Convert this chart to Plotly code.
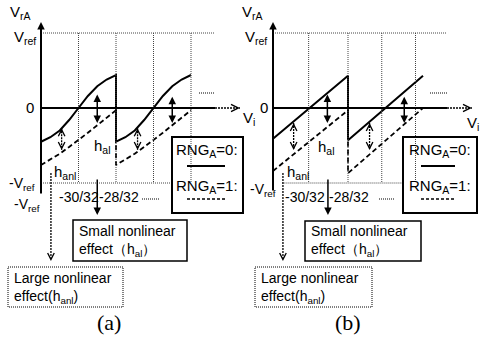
import plotly.graph_objects as go

W, H = 484, 340
SANS = "Liberation Sans, Arial, sans-serif"
SERIF = "Liberation Serif, Times New Roman, serif"
DOT = "1px,1px"

# ---------------- data (x: Vi in units of 1/32, y: V_rA in units of Vref) ----------------
VREF = 1.0
# panel (a): nonlinear (S-shaped) residue curves
vi_a1 = [-32, -31.5, -31, -30.5, -30, -29.5, -29, -28.5, -28]
vi_a2 = [-28, -27.5, -27, -26.5, -26, -25.5, -25, -24.5, -24]
a_rng0 = [-0.45, -0.39, -0.30, -0.16, 0.0, 0.16, 0.29, 0.38, 0.44]
a_rng1 = [-0.76, -0.69, -0.61, -0.52, -0.43, -0.33, -0.23, -0.13, -0.03]
# panel (b): linear residue curves
vi_b1 = [-32, -28]
vi_b2 = [-28, -24]
b_rng0_1 = [-0.41, 0.43]
b_rng0_2 = [-0.43, 0.43]
b_rng1_1 = [-0.84, -0.03]
b_rng1_2 = [-0.87, 0.0]
# vertical guide lines (Vi / (1/32))
grid_a = [-30, -28, -26, -24]
grid_b = [-30.1, -28, -26.2, -24.4]
tick_labels = ["-30/32", "-28/32"]
# h_al (solid) and h_anl (dotted) double arrows: x, top, bottom
hal_a = [(-29.0, 0.2, -0.2), (-25.0, 0.17, -0.2)]
hanl_a = [(-30.9, -0.27, -0.56), (-26.85, -0.27, -0.56)]
hal_b = [(-29.1, 0.2, -0.2), (-25.0, 0.17, -0.2)]
hanl_b = [(-30.9, -0.2, -0.56), (-26.85, -0.2, -0.56)]
# arrows to explanation boxes: x, start, end
small_arrow = {"a": (-29.0, -0.933, -1.427), "b": (-29.07, -0.933, -1.427)}
large_arrow = {"a": (-31.47, -0.867, -2.04), "b": (-31.47, -0.867, -2.04)}

fig = go.Figure()

# ---------------- axes layout ----------------
# pixel mapping: 18.75 px per 1/32, 75 px per Vref, zero line at y=108 px
yr = [(108 - 340) / 75, 108 / 75]
fig.update_layout(
    width=W, height=H, margin=dict(l=0, r=0, t=0, b=0),
    paper_bgcolor="white", plot_bgcolor="white", showlegend=False,
    xaxis=dict(domain=[0, 0.5], range=[-32 - 41 / 18.75, -32 + 201 / 18.75], visible=False),
    yaxis=dict(domain=[0, 1], range=yr, visible=False),
    xaxis2=dict(domain=[0.5, 1], range=[-32 - 31 / 18.75, -32 + 211 / 18.75], visible=False, anchor="y2"),
    yaxis2=dict(domain=[0, 1], range=yr, visible=False, anchor="x2"),
)

shapes = []
anns = []


def line(xr, yref, x0, y0, x1, y1, dash="solid", width=1.0, color="black"):
    shapes.append(dict(type="line", xref=xr, yref=yref, x0=x0, y0=y0, x1=x1, y1=y1,
                       line=dict(color=color, width=width, dash=dash)))


def P(x, y):
    return x / W, 1 - y / H


def pline(x0, y0, x1, y1, dash="solid", width=1.0, color="black"):
    a0, b0 = P(x0, y0)
    a1, b1 = P(x1, y1)
    shapes.append(dict(type="line", xref="paper", yref="paper", x0=a0, y0=b0, x1=a1, y1=b1,
                       line=dict(color=color, width=width, dash=dash)))


def prect(x0, y0, x1, y1, dash="solid", width=1.5):
    a0, b0 = P(x0, y0)
    a1, b1 = P(x1, y1)
    shapes.append(dict(type="rect", xref="paper", yref="paper", x0=a0, y0=b0, x1=a1, y1=b1,
                       line=dict(color="black", width=width, dash=dash), fillcolor="rgba(0,0,0,0)"))


def text(t, x, y, size=14, xanchor="left", family=SANS, align="left"):
    a, b = P(x, y)
    anns.append(dict(text=t, x=a, y=b, xref="paper", yref="paper", showarrow=False,
                     xanchor=xanchor, yanchor="middle", align=align,
                     font=dict(family=family, size=size, color="black")))


def arrow(xr, yref, x, y, ax, ay, head=2, width=1.5, size=1.0, both=False):
    anns.append(dict(text="", x=x, y=y, ax=ax, ay=ay, xref=xr, yref=yref, axref=xr, ayref=yref,
                     showarrow=True, arrowhead=head, arrowwidth=width, arrowsize=size,
                     arrowcolor="black", standoff=0, startstandoff=0,
                     arrowside="end+start" if both else "end", startarrowhead=head,
                     startarrowsize=size))


def head(xr, yref, x, y, dx, dy, headtype=5, size=1.3, width=1.0):
    anns.append(dict(text="", x=x, y=y, xref=xr, yref=yref, ax=dx, ay=dy,
                     showarrow=True, arrowhead=headtype, arrowwidth=width, arrowsize=size,
                     arrowcolor="black", standoff=0))


def panel(xr, yref, grid, x_end, x_arrow, yaxis_bottom, vneg_range, hal, hanl, sa, la):
    # Vref dotted line and vertical guides
    line(xr, yref, -32, VREF, x_end, VREF, dash=DOT, width=1, color="#444")
    for g in grid:
        line(xr, yref, g, VREF, g, -VREF, dash=DOT, width=1, color="#444")
    # -Vref dotted line
    line(xr, yref, vneg_range[0], -VREF, vneg_range[1], -VREF, dash=DOT, width=1, color="#444")
    # zero line + dotted extension with arrow
    line(xr, yref, -32, 0, x_end, 0, width=2)
    line(xr, yref, x_end, 0, x_arrow, 0, dash="2px,1px", width=1.3)
    head(xr, yref, x_arrow, 0, -5, 0, headtype=5, size=1.2, width=1.2)
    # vertical axis with arrow
    arrow(xr, yref, -32, 1.147, -32, yaxis_bottom, head=2, width=2, size=0.75)
    # double arrows
    for (x, t, b) in hal:
        arrow(xr, yref, x, b, x, t, head=2, width=1.5, size=1.0, both=True)
    for (x, t, b) in hanl:
        line(xr, yref, x, t, x, b, dash="2px,1px", width=1.3)
        head(xr, yref, x, t, 0, 5, headtype=5, size=1.3)
        head(xr, yref, x, b, 0, -5, headtype=5, size=1.3)
    # arrows to explanation boxes
    arrow(xr, yref, sa[0], sa[2], sa[0], sa[1], head=2, width=1.5, size=1.0)
    line(xr, yref, la[0], la[1], la[0], la[2] + 0.06, dash="2px,1px", width=1.3)
    head(xr, yref, la[0], la[2], 0, -5, headtype=5, size=1.3)


panel("x", "y", grid_a, -22.72, -21.39, -1.16, (-32, -25.0), hal_a, hanl_a,
      small_arrow["a"], large_arrow["a"])
panel("x2", "y2", grid_b, -22.72, -21.39, -1.12, (-31.5, -25.05), hal_b, hanl_b,
      small_arrow["b"], large_arrow["b"])

# ---------------- curves ----------------
solid = dict(color="black", width=2)
dashed = dict(color="black", width=1.8, dash="5px,3px")
fig.add_trace(go.Scatter(x=vi_a1 + vi_a2, y=a_rng0 + a_rng0, mode="lines", line=solid,
                         xaxis="x", yaxis="y", hoverinfo="skip"))
fig.add_trace(go.Scatter(x=vi_a1 + vi_a2, y=a_rng1 + a_rng1, mode="lines", line=dashed,
                         xaxis="x", yaxis="y", hoverinfo="skip"))
fig.add_trace(go.Scatter(x=vi_b1 + vi_b2, y=b_rng0_1 + b_rng0_2, mode="lines", line=solid,
                         xaxis="x2", yaxis="y2", hoverinfo="skip"))
fig.add_trace(go.Scatter(x=vi_b1 + vi_b2, y=b_rng1_1 + b_rng1_2, mode="lines", line=dashed,
                         xaxis="x2", yaxis="y2", hoverinfo="skip"))

# ---------------- decorations (paper coords) ----------------
for (ox, lx0, lx1, bx0, bx1, sb, lb) in [
    (0, 187, 225, 172, 243, (73, 220, 187, 261), (8, 267, 123, 307)),
    (1, 421, 455, 403, 477, (305, 221, 421, 261), (255, 267, 372, 307)),
]:
    prect(bx0, 137, bx1, 213, width=2)
    pline(lx0, 166, lx1, 166, width=2)
    pline(lx0, 199, lx1, 199, dash="3px,2px", width=1.5)
    prect(*sb, width=1.5)
    prect(*lb, dash=DOT, width=1)

# little dotted "......" marks
for (x0, x1, y) in [(199, 215, 93), (142, 160, 199), (430, 447, 93), (379, 394, 199)]:
    pline(x0, y, x1, y, dash=DOT, width=1.2)

# ---------------- texts ----------------
# panel (a)
text("V<sub>rA</sub>", 8, 13, 15)
text("V<sub>ref</sub>", 12, 37, 15)
text("0", 30, 107, 15, xanchor="center")
text("-V<sub>ref</sub>", 7, 184, 14)
text("-V<sub>ref</sub>", 12, 205, 14)
text("h<sub>al</sub>", 92, 146, 15)
text("h<sub>anl</sub>", 52, 172, 15)
text(tick_labels[0], 79, 197, 14, xanchor="center")
text(tick_labels[1], 119, 197, 14, xanchor="center")
text("V<sub>i</sub>", 241, 119, 15)
text("RNG<sub>A</sub>=0:", 207, 150, 15, xanchor="center")
text("RNG<sub>A</sub>=1:", 207, 186, 15, xanchor="center")
text("Small nonlinear<br>effect（h<sub>al</sub>）", 77, 241, 14)
text("Large nonlinear<br>effect(h<sub>anl</sub>)", 12, 288, 14)
text("(a)", 109, 322, 22, xanchor="center", family=SERIF)

# panel (b)
text("V<sub>rA</sub>", 240, 13, 15)
text("V<sub>ref</sub>", 243, 37, 15)
text("0", 264, 107, 15, xanchor="center")
text("-V<sub>ref</sub>", 248, 190, 14)
text("h<sub>al</sub>", 316, 147, 15)
text("h<sub>anl</sub>", 285, 172, 15)
text(tick_labels[0], 305, 197, 14, xanchor="center")
text(tick_labels[1], 349, 197, 14, xanchor="center")
text("V<sub>i</sub>", 465, 123, 15)
text("RNG<sub>A</sub>=0:", 440, 150, 15, xanchor="center")
text("RNG<sub>A</sub>=1:", 440, 186, 15, xanchor="center")
text("Small nonlinear<br>effect（h<sub>al</sub>）", 309, 241, 14)
text("Large nonlinear<br>effect(h<sub>anl</sub>)", 259, 288, 14)
text("(b)", 348, 322, 22, xanchor="center", family=SERIF)

fig.update_layout(shapes=shapes, annotations=anns)
fig.write_html("out.html", config={"displayModeBar": False},
               post_script="document.body.style.margin='0';document.body.style.padding='0';")
